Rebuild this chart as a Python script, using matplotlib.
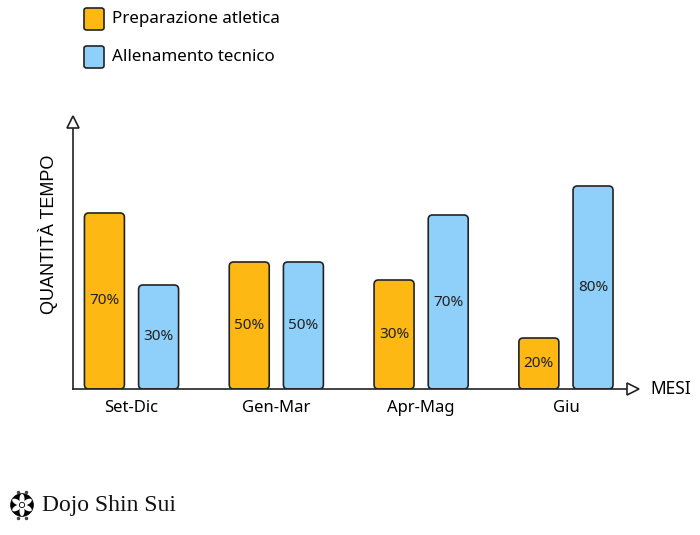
import numpy as np
import matplotlib
matplotlib.use("Agg")
from matplotlib import pyplot as plt
from matplotlib.patches import FancyBboxPatch, Ellipse, Circle

# =====> dati <=====
mesi = ["Set-Dic", "Gen-Mar", "Apr-Mag", "Giu"]
# altezze disegnate delle barre (non proporzionali alle etichette)
altezza_prep = [176, 127, 109, 51]
altezza_all = [104, 127, 174, 203]
etichette_prep = ["70%", "50%", "30%", "20%"]
etichette_all = ["30%", "50%", "70%", "80%"]
legenda = ["Preparazione atletica", "Allenamento tecnico"]

arancio = "#FDB813"
azzurro = "#8FD0FA"
bordo = "#222222"

plt.rcParams["font.family"] = ["Noto Sans", "DejaVu Sans"]

fig = plt.figure(figsize=(7, 5.35), dpi=100)
ax = fig.add_axes([73 / 700, 1 - 389 / 535, 560 / 700, 267 / 535])

x = np.arange(len(mesi))
larg = 0.276
off = 0.187

b1 = ax.bar(x - off, altezza_prep, larg)
b2 = ax.bar(x + off, altezza_all, larg)


# barre con angoli arrotondati
def arrotonda(barre, colore):
    for p in barre:
        bx, by = p.get_xy()
        w, h = p.get_width(), p.get_height()
        p.remove()
        ax.add_patch(FancyBboxPatch((bx, by), w, h,
                                    boxstyle="round,pad=0,rounding_size=0.03",
                                    mutation_aspect=145, fc=colore, ec=bordo,
                                    lw=1.2, zorder=2))


arrotonda(b1, arancio)
arrotonda(b2, azzurro)

for i in range(len(mesi)):
    ax.text(x[i] - off, altezza_prep[i] / 2, etichette_prep[i], ha="center",
            va="center", fontsize=11, color="#222222")
    ax.text(x[i] + off, altezza_all[i] / 2, etichette_all[i], ha="center",
            va="center", fontsize=11, color="#222222")

ax.set_xlim(-0.404, 3.463)
ax.set_ylim(0, 267)
for s in ["top", "right"]:
    ax.spines[s].set_visible(False)
for s in ["left", "bottom"]:
    ax.spines[s].set_color(bordo)
    ax.spines[s].set_linewidth(1.2)
ax.set_yticks([])
ax.set_xticks(x)
ax.set_xticklabels(mesi, fontsize=12)
ax.tick_params(axis="x", length=0, pad=8)

# frecce degli assi
ax.plot([-0.404], [267], marker="^", ms=9, mfc="white", mec=bordo, mew=1.2,
        clip_on=False, zorder=3)
ax.plot([3.463], [0], marker=">", ms=9, mfc="white", mec=bordo, mew=1.2,
        clip_on=False, zorder=3)
ax.text(3.58, 0, "MESI", ha="left", va="center", fontsize=12.5)
ax.set_ylabel("QUANTITÀ TEMPO", fontsize=13, family="Liberation Sans")
ax.yaxis.set_label_coords(-0.027, 0.58)

# legenda
fig.patches.append(FancyBboxPatch((84 / 700, 1 - 30 / 535), 20 / 700, 22 / 535,
                                  boxstyle="round,pad=0,rounding_size=0.004",
                                  transform=fig.transFigure, fc=arancio, ec=bordo, lw=1.2))
fig.patches.append(FancyBboxPatch((84 / 700, 1 - 68 / 535), 20 / 700, 22 / 535,
                                  boxstyle="round,pad=0,rounding_size=0.004",
                                  transform=fig.transFigure, fc=azzurro, ec=bordo, lw=1.2))
fig.text(112 / 700, 1 - 19 / 535, legenda[0], va="center", fontsize=12.2)
fig.text(112 / 700, 1 - 57 / 535, legenda[1], va="center", fontsize=12.2)

# logo
lx = fig.add_axes([7 / 700, 1 - 520 / 535, 30 / 700, 30 / 535])
lx.set_xlim(-1.25, 1.25)
lx.set_ylim(-1.25, 1.25)
lx.axis("off")
lx.add_patch(Circle((0, 0), 0.95, fc="black", ec="black", lw=0.5))
for k in range(6):
    ang = k * 60 + 30
    a = np.deg2rad(ang)
    lx.add_patch(Ellipse((0.5 * np.cos(a), 0.5 * np.sin(a)), 0.85, 0.42,
                         angle=ang, fc="white", ec="none"))
lx.add_patch(Circle((0, 0), 0.22, fc="white", ec="black", lw=0.6))
for px, py in [(-0.35, 1.1), (0.35, 1.1), (-0.35, -1.1), (0.35, -1.1)]:
    lx.plot([px], [py], marker="o", ms=1.5, color="#444444")
fig.text(42 / 700, 1 - 505 / 535, "Dojo Shin Sui", va="center", fontsize=17,
         family="Liberation Serif", color="#111111")

fig.savefig("out.png", dpi=100)
